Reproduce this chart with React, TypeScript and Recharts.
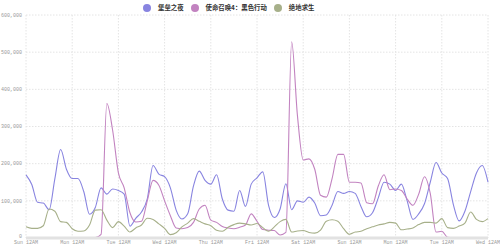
import { LineChart, Line, XAxis, YAxis, CartesianGrid } from "recharts";

// one reading every 3 hours, Sun 12AM → Wed 12AM (values in thousands)
const fortnite = [
  170, 144, 96, 94, 76, 160, 238, 185, 160, 160, 125, 64, 82, 135, 118, 132,
  128, 118, 32, 53, 70, 105, 195, 172, 165, 135, 75, 51, 65, 140, 180, 155,
  145, 170, 105, 75, 72, 128, 85, 145, 162, 178, 88, 55, 78, 146, 76, 100,
  96, 110, 94, 60, 62, 88, 125, 120, 125, 120, 85, 57, 68, 108, 150, 145,
  128, 145, 100, 50, 65, 92, 150, 203, 175, 160, 90, 46, 72, 125, 175, 195,
  150,
];

const blackOps4 = [
  1, 1, 1, 1, 1, 1, 1, 1, 1, 1, 1, 1, 1, 10, 362, 290,
  175, 135, 68, 43, 45, 100, 155, 142, 100, 60, 27, 25, 28, 42, 78, 88,
  48, 42, 31, 27, 25, 29, 35, 65, 45, 23, 21, 20, 8, 15, 528, 330,
  210, 213, 185, 115, 110, 160, 225, 225, 150, 150, 148, 95, 92, 140, 170, 130,
  132, 128, 105, 88, 118, 165, 120, 16, 18, 2, 1, 1, 1, 1, 1, 1,
  1,
];

const pubg = [
  30, 26, 26, 33, 78, 72, 44, 42, 25, 18, 19, 35, 75, 76, 48, 28,
  44, 32, 16, 27, 35, 53, 50, 38, 26, 9, 14, 30, 40, 52, 45, 38,
  33, 21, 18, 29, 36, 40, 38, 35, 39, 28, 18, 30, 44, 50, 16, 19,
  20, 15, 13, 21, 45, 49, 45, 25, 10, 16, 18, 25, 30, 35, 38, 42,
  40, 22, 24, 27, 36, 42, 42, 40, 52, 28, 26, 32, 40, 70, 50, 44,
  52,
];

const dayLabels = [
  "Sun 12AM", "Mon 12AM", "Tue 12AM", "Wed 12AM", "Thu 12AM", "Fri 12AM",
  "Sat 12AM", "Sun 12AM", "Mon 12AM", "Tue 12AM", "Wed 12AM",
];

const yTicks = [0, 100000, 200000, 300000, 400000, 500000, 600000];

const series = [
  { key: "fortnite", name: "堡垒之夜", color: "#8884e0" },
  { key: "blackOps4", name: "使命召唤4：黑色行动", color: "#c283c0" },
  { key: "pubg", name: "绝地求生", color: "#a7b08a" },
];

const data = fortnite.map((v, i) => ({
  hour: i * 3,
  fortnite: v * 1000,
  blackOps4: blackOps4[i] * 1000,
  pubg: pubg[i] * 1000,
}));

const tickStyle = { fontSize: 5, fill: "#999", fontFamily: "Liberation Mono" };

// y labels; the "0" sits a touch higher so it clears the first day label
function YTick({ x, y, payload }: any) {
  const v = payload.value as number;
  return (
    <text x={x} y={y} dy={v === 0 ? "0" : "0.35em"} textAnchor="end" {...tickStyle}>
      {v.toLocaleString("en-US")}
    </text>
  );
}

export default function App() {
  return (
    <div style={{ position: "fixed", left: 0, top: 0, width: 500, height: 250, background: "#fff" }}>
      <div
        style={{
          position: "absolute",
          left: 143,
          top: 3,
          display: "flex",
          alignItems: "center",
          fontFamily: "Noto Sans CJK SC",
          fontWeight: 700,
          fontSize: 6.4,
          color: "#333",
          zIndex: 2,
        }}
      >
        {series.map((s) => (
          <div key={s.key} style={{ display: "flex", alignItems: "center", marginRight: 7 }}>
            <span
              style={{
                width: 8,
                height: 8,
                borderRadius: 4,
                background: s.color,
                marginRight: 7,
                display: "inline-block",
              }}
            />
            <span>{s.name}</span>
          </div>
        ))}
      </div>
      <LineChart width={500} height={250} data={data} margin={{ top: 15, right: 12, bottom: 0, left: 0 }}>
        <CartesianGrid stroke="#e4e4e4" strokeDasharray="1.5 1.5" />
        <XAxis
          dataKey="hour"
          type="number"
          domain={[0, 240]}
          ticks={dayLabels.map((_, i) => i * 24)}
          tickFormatter={(v: number) => dayLabels[v / 24]}
          interval={0}
          height={12}
          tickLine={false}
          tickSize={0}
          tickMargin={2.5}
          axisLine={{ stroke: "#e2e2e2", strokeWidth: 3 }}
          tick={tickStyle}
        />
        <YAxis
          domain={[0, 600000]}
          ticks={yTicks}
          width={26}
          axisLine={false}
          tickLine={false}
          tickSize={2}
          tickMargin={2}
          tick={<YTick />}
        />
        {series.map((s) => (
          <Line
            key={s.key}
            type="monotone"
            dataKey={s.key}
            name={s.name}
            stroke={s.color}
            strokeWidth={1.1}
            dot={false}
            isAnimationActive={false}
          />
        ))}
      </LineChart>
    </div>
  );
}
